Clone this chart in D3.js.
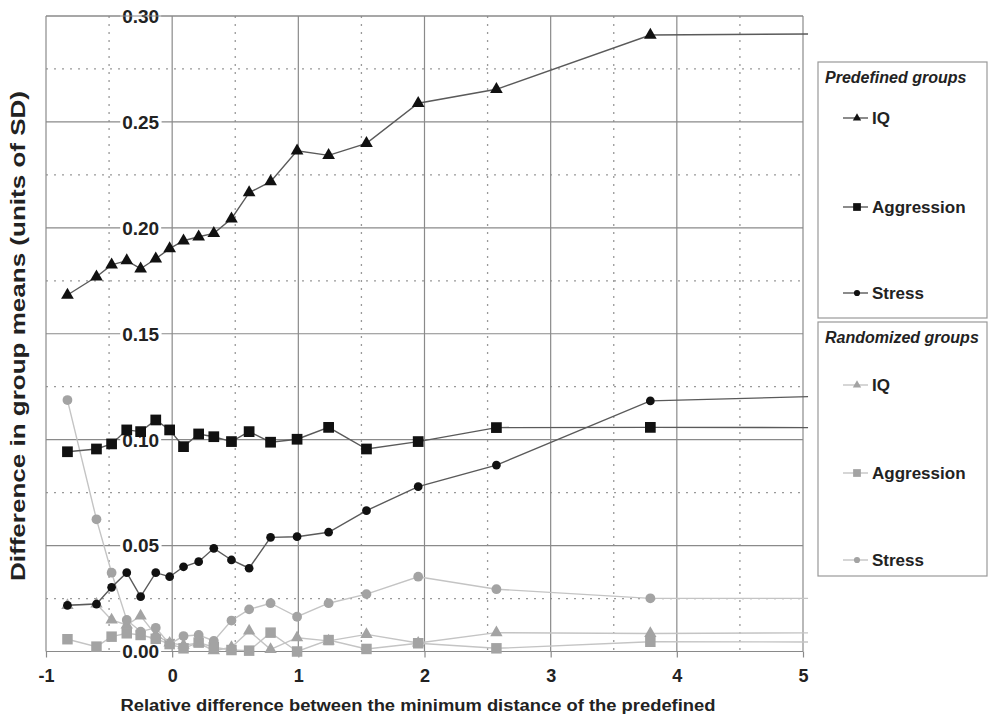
<!DOCTYPE html>
<html>
<head>
<meta charset="utf-8">
<script src="https://cdn.jsdelivr.net/npm/d3@7"></script>
<style>
  body { margin: 0; background: #fff; }
  text { font-family: "Liberation Sans", Arial, sans-serif; font-weight: bold; fill: #222; }
</style>
</head>
<body>
<svg id="chart" width="991" height="718"></svg>
<script>
// x positions of the measured points; the last one is the tail to the right edge
const xValues = [-0.83, -0.60, -0.48, -0.36, -0.25, -0.13, -0.02, 0.09, 0.21, 0.33,
  0.47, 0.61, 0.78, 0.99, 1.24, 1.54, 1.95, 2.57, 3.79, 5.04];

const iqPre = [0.1683, 0.1769, 0.1825, 0.1845, 0.1807, 0.1854, 0.1902, 0.1939, 0.1958, 0.1974,
  0.2043, 0.2166, 0.2218, 0.2364, 0.2342, 0.2399, 0.2588, 0.2654, 0.2910, 0.2915];
const aggPre = [0.0943, 0.0956, 0.0980, 0.1046, 0.1038, 0.1093, 0.1046, 0.0967, 0.1027, 0.1014,
  0.0991, 0.1038, 0.0988, 0.1002, 0.1058, 0.0956, 0.0991, 0.1057, 0.1058, 0.1057];
const stressPre = [0.0218, 0.0224, 0.0303, 0.0372, 0.0259, 0.0372, 0.0353, 0.0400, 0.0424, 0.0487,
  0.0432, 0.0393, 0.0539, 0.0542, 0.0563, 0.0665, 0.0778, 0.0880, 0.1183, 0.1203];

const iqRand = [0.0218, 0.0224, 0.0149, 0.0125, 0.0168, 0.0078, 0.0040, 0.0030, 0.0040, 0.0004,
  0.0020, 0.0097, 0.0010, 0.0065, 0.0050, 0.0081, 0.0040, 0.0089, 0.0085, 0.0088];
const aggRand = [0.0058, 0.0023, 0.0070, 0.0086, 0.0078, 0.0060, 0.0035, 0.0015, 0.0042, 0.0020,
  0.0007, 0.0004, 0.0089, 0.0000, 0.0054, 0.0012, 0.0039, 0.0015, 0.0046, 0.0045];
const stressRand = [0.1187, 0.0624, 0.0372, 0.0149, 0.0094, 0.0112, 0.0035, 0.0073, 0.0078, 0.0050,
  0.0146, 0.0199, 0.0228, 0.0164, 0.0228, 0.0271, 0.0353, 0.0294, 0.0251, 0.0251];

const xTicks = [-1, 0, 1, 2, 3, 4, 5];
const yTicks = [0.00, 0.05, 0.10, 0.15, 0.20, 0.25, 0.30];
const xLabel = "Relative difference between the minimum distance of the predefined";
const yLabel = "Difference in group means (units of SD)";

const svg = d3.select("#chart");
const x = d3.scaleLinear().domain([-1, 5]).range([46, 803]);
const y = d3.scaleLinear().domain([0, 0.30]).range([651.5, 16]);

// grid
const grid = svg.append("g");
grid.selectAll(".vminor").data(d3.range(-0.5, 5, 1)).enter().append("line")
  .attr("x1", d => x(d)).attr("x2", d => x(d)).attr("y1", y(0.30)).attr("y2", y(0))
  .attr("stroke", "#999").attr("stroke-dasharray", "2,6").attr("stroke-width", 1.3);
grid.selectAll(".hminor").data(d3.range(0.025, 0.3, 0.05)).enter().append("line")
  .attr("x1", x(-1)).attr("x2", x(5)).attr("y1", d => y(d)).attr("y2", d => y(d))
  .attr("stroke", "#999").attr("stroke-dasharray", "2,6").attr("stroke-width", 1.3);
grid.selectAll(".vmajor").data(xTicks).enter().append("line")
  .attr("x1", d => x(d)).attr("x2", d => x(d)).attr("y1", y(0.30)).attr("y2", y(0))
  .attr("stroke", "#8a8a8a").attr("stroke-width", 1.2);
grid.selectAll(".hmajor").data(yTicks).enter().append("line")
  .attr("x1", x(-1)).attr("x2", x(5)).attr("y1", d => y(d)).attr("y2", d => y(d))
  .attr("stroke", "#8a8a8a").attr("stroke-width", 1.2);

// x axis ticks and labels
const xAxis = svg.append("g").attr("transform", `translate(0,${y(0)})`)
  .call(d3.axisBottom(x).tickValues(xTicks).tickSize(6).tickFormat(d => String(d)));
xAxis.select(".domain").remove();
xAxis.selectAll("line").attr("stroke", "#8a8a8a").attr("stroke-width", 1.2);
xAxis.selectAll("text").attr("y", 30).attr("dy", null)
  .style("font-size", "18px").attr("fill", "#222");

// y labels sit left of the x = 0 line, on a white patch
const yLab = svg.append("g");
yTicks.forEach(v => {
  const t = yLab.append("text").attr("x", x(0) - 13).attr("y", y(v)).attr("dy", "0.36em")
    .attr("text-anchor", "end").style("font-size", "19px").text(d3.format(".2f")(v));
  const b = t.node().getBBox();
  yLab.insert("rect", "text").attr("x", b.x - 2).attr("y", b.y + 2)
    .attr("width", b.width + 4).attr("height", b.height - 4).attr("fill", "#fff");
});

// series
const series = [
  { name: "IQ", values: iqRand, symbol: d3.symbolTriangle, size: 66, line: "#c4c4c4", mark: "#a3a3a3" },
  { name: "Aggression", values: aggRand, symbol: d3.symbolSquare, size: 110, line: "#c4c4c4", mark: "#a3a3a3" },
  { name: "Stress", values: stressRand, symbol: d3.symbolCircle, size: 75, line: "#c4c4c4", mark: "#a3a3a3" },
  { name: "IQ", values: iqPre, symbol: d3.symbolTriangle, size: 70, line: "#5a5a5a", mark: "#111" },
  { name: "Aggression", values: aggPre, symbol: d3.symbolSquare, size: 115, line: "#5a5a5a", mark: "#111" },
  { name: "Stress", values: stressPre, symbol: d3.symbolCircle, size: 60, line: "#5a5a5a", mark: "#111" }
];

const line = d3.line().x(d => x(d.x)).y(d => y(d.y));
series.forEach(s => {
  const pts = xValues.map((xv, i) => ({ x: xv, y: s.values[i] }));
  svg.append("path").datum(pts).attr("d", line)
    .attr("fill", "none").attr("stroke", s.line).attr("stroke-width", 1.4);
  svg.append("g").selectAll("path").data(pts.slice(0, -1)).enter().append("path")
    .attr("transform", d => `translate(${x(d.x)},${y(d.y)})`)
    .attr("d", d3.symbol().type(s.symbol).size(s.size))
    .attr("fill", s.mark);
});

// frame top
svg.append("line").attr("x1", x(-1)).attr("x2", x(5)).attr("y1", y(0.30)).attr("y2", y(0.30))
  .attr("stroke", "#8a8a8a").attr("stroke-width", 1.2);

// axis titles
svg.append("text").attr("x", 418).attr("y", 711).attr("text-anchor", "middle")
  .attr("textLength", 595).attr("lengthAdjust", "spacingAndGlyphs")
  .style("font-size", "16px").text(xLabel);
svg.append("text").attr("transform", "translate(25,336) rotate(-90)").attr("text-anchor", "middle")
  .attr("textLength", 490).attr("lengthAdjust", "spacingAndGlyphs")
  .style("font-size", "21px").text(yLabel);

// legends
const groups = [
  { title: "Predefined groups", top: 62, bottom: 318, items: series.slice(3), rows: [118, 207, 293] },
  { title: "Randomized groups", top: 322, bottom: 576, items: series.slice(0, 3), rows: [385, 473, 560] }
];
const legendSizes = [30, 60, 30];
groups.forEach(g => {
  const lg = svg.append("g");
  lg.append("rect").attr("x", 818).attr("y", g.top).attr("width", 169).attr("height", g.bottom - g.top)
    .attr("fill", "#fff").attr("stroke", "#999").attr("stroke-width", 1.2);
  lg.append("text").attr("x", 825).attr("y", g.top + 21).style("font-size", "16px")
    .style("font-style", "italic").text(g.title);
  g.items.forEach((s, i) => {
    const ry = g.rows[i];
    lg.append("line").attr("x1", 843).attr("x2", 868).attr("y1", ry).attr("y2", ry)
      .attr("stroke", s.line).attr("stroke-width", 1.4);
    lg.append("path").attr("transform", `translate(857,${ry})`)
      .attr("d", d3.symbol().type(s.symbol).size(legendSizes[i]))
      .attr("fill", s.mark);
    lg.append("text").attr("x", 872).attr("y", ry).attr("dy", "0.36em")
      .style("font-size", "17px").text(s.name);
  });
});
</script>
</body>
</html>
